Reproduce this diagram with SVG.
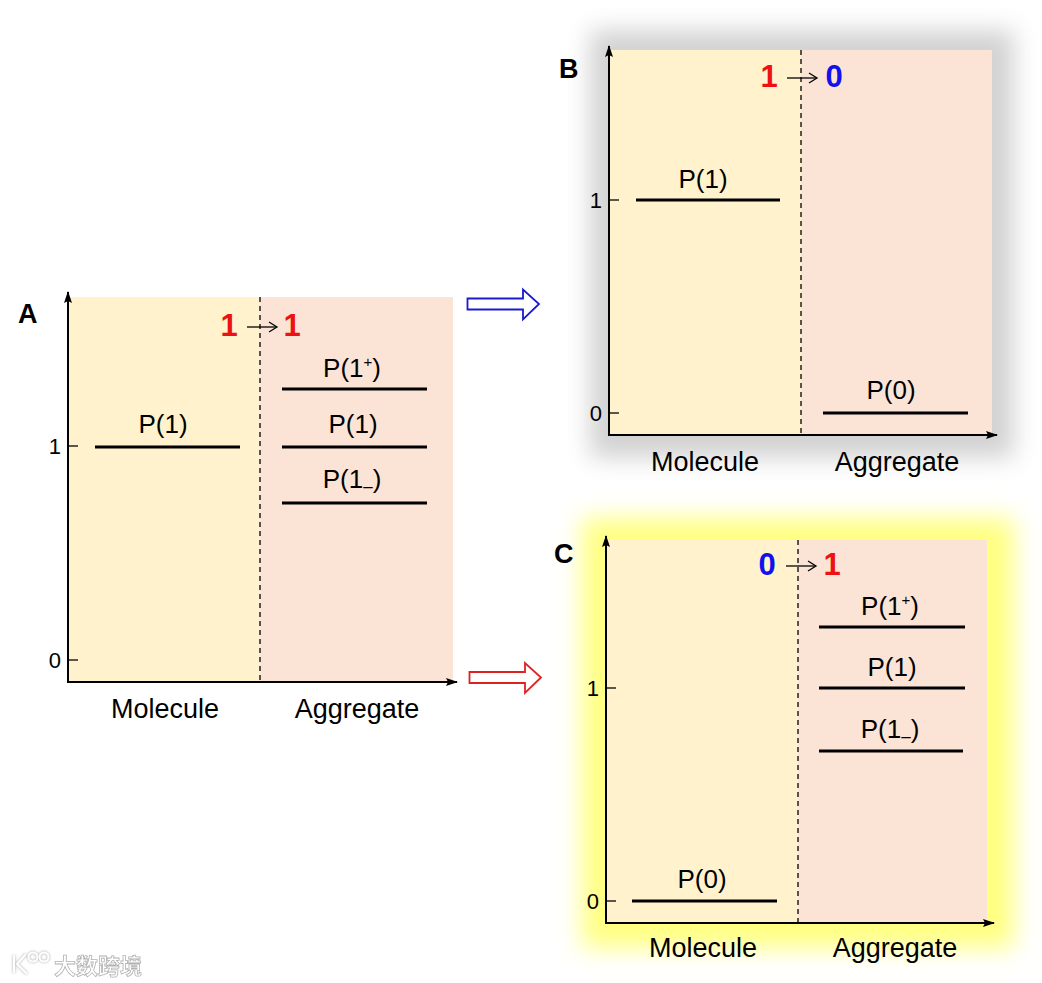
<svg xmlns="http://www.w3.org/2000/svg" width="1042" height="983" viewBox="0 0 1042 983">
<defs>
<style>
text{font-family:"Liberation Sans",Arial,sans-serif;fill:#000}
.lbl{font-size:26px;text-anchor:middle}
.ax{font-size:27px;text-anchor:middle}
.tk{font-size:22px;text-anchor:end}
.pl{font-size:27px;font-weight:bold}
.big{font-size:31px;font-weight:bold;text-anchor:middle}
.red{fill:#ee1111}
.blue{fill:#1111ee}
.mol{fill:#fff2cc}
.agg{fill:#fbe4d6}
.lvl{stroke:#000;stroke-width:3}
.axis{stroke:#000;stroke-width:2;fill:none}
.dash{stroke:#000;stroke-width:1.3;stroke-dasharray:5,4}
.thin{stroke:#000;stroke-width:1.3;fill:none}
.wm{font-family:"Noto Sans CJK SC","Liberation Sans",sans-serif;font-size:22px;fill:#fff;stroke:#aaa;stroke-width:0.8;font-weight:bold}
</style>
<marker id="ah" viewBox="0 0 12 10" refX="11" refY="5" markerWidth="12" markerHeight="10" markerUnits="userSpaceOnUse" orient="auto">
<path d="M0,1 L12,5 L0,9 L2,5 Z" fill="#000"/>
</marker>
<filter id="blur" x="-20%" y="-20%" width="140%" height="140%"><feGaussianBlur stdDeviation="12"/></filter>
<filter id="blurw" x="-20%" y="-20%" width="140%" height="140%"><feGaussianBlur stdDeviation="1.2"/></filter>
</defs>
<rect width="1042" height="983" fill="#fff"/>

<!-- Panel A -->
<g id="panelA">
<rect class="mol" x="68" y="297" width="192" height="385"/>
<rect class="agg" x="260" y="297" width="193" height="385"/>
<line class="dash" x1="260" y1="297" x2="260" y2="681"/>
<line class="axis" x1="68" y1="683" x2="68" y2="292" marker-end="url(#ah)"/>
<line class="axis" x1="67" y1="682" x2="457" y2="682" marker-end="url(#ah)"/>
<line class="thin" x1="68" y1="446" x2="78" y2="446"/>
<line class="thin" x1="68" y1="660" x2="78" y2="660"/>
<text class="tk" x="61" y="454">1</text>
<text class="tk" x="61" y="668">0</text>
<text class="pl" x="18" y="323">A</text>
<text class="big red" x="229" y="336">1</text>
<line class="thin" x1="247" y1="327" x2="276" y2="327"/>
<path class="thin" d="M269,322 L277,327 L269,332"/>
<text class="big red" x="292" y="336">1</text>
<line class="lvl" x1="95" y1="447" x2="240" y2="447"/>
<text class="lbl" x="163" y="433">P(1)</text>
<line class="lvl" x1="282" y1="389" x2="427" y2="389"/>
<text class="lbl" x="352" y="377">P(1<tspan font-size="15" dy="-10">+</tspan><tspan dy="10">)</tspan></text>
<line class="lvl" x1="282" y1="447" x2="427" y2="447"/>
<text class="lbl" x="353" y="433">P(1)</text>
<line class="lvl" x1="282" y1="503" x2="427" y2="503"/>
<text class="lbl" x="352" y="488">P(1<tspan font-size="17" dy="4">–</tspan><tspan dy="-4">)</tspan></text>
<text class="ax" x="165" y="718">Molecule</text>
<text class="ax" x="357" y="718">Aggregate</text>
</g>

<!-- Panel B -->
<g id="panelB">
<rect x="590" y="30" width="424" height="428" fill="#d2d2d2" filter="url(#blur)"/>
<rect class="mol" x="609" y="50" width="192" height="386"/>
<rect class="agg" x="801" y="50" width="191" height="386"/>
<line class="dash" x1="801" y1="50" x2="801" y2="434"/>
<line class="axis" x1="609" y1="436" x2="609" y2="46" marker-end="url(#ah)"/>
<line class="axis" x1="608" y1="435" x2="997" y2="435" marker-end="url(#ah)"/>
<line class="thin" x1="609" y1="200" x2="619" y2="200"/>
<line class="thin" x1="609" y1="413" x2="619" y2="413"/>
<text class="tk" x="602" y="208">1</text>
<text class="tk" x="602" y="421">0</text>
<text class="pl" x="559" y="78">B</text>
<text class="big red" x="769" y="87">1</text>
<line class="thin" x1="787" y1="78" x2="816" y2="78"/>
<path class="thin" d="M809,73 L817,78 L809,83"/>
<text class="big blue" x="834" y="87">0</text>
<line class="lvl" x1="636" y1="200" x2="780" y2="200"/>
<text class="lbl" x="703" y="188">P(1)</text>
<line class="lvl" x1="823" y1="413" x2="968" y2="413"/>
<text class="lbl" x="891" y="399">P(0)</text>
<text class="ax" x="705" y="471">Molecule</text>
<text class="ax" x="897" y="471">Aggregate</text>
</g>

<!-- Panel C -->
<g id="panelC">
<rect x="582" y="518" width="432" height="430" fill="#ffff80" filter="url(#blur)"/>
<rect class="mol" x="606" y="540" width="192" height="384"/>
<rect class="agg" x="798" y="540" width="189" height="384"/>
<line class="dash" x1="798" y1="540" x2="798" y2="922"/>
<line class="axis" x1="606" y1="924" x2="606" y2="536" marker-end="url(#ah)"/>
<line class="axis" x1="605" y1="923" x2="994" y2="923" marker-end="url(#ah)"/>
<line class="thin" x1="606" y1="688" x2="616" y2="688"/>
<line class="thin" x1="606" y1="901" x2="616" y2="901"/>
<text class="tk" x="599" y="696">1</text>
<text class="tk" x="599" y="909">0</text>
<text class="pl" x="554" y="563">C</text>
<text class="big blue" x="767" y="575">0</text>
<line class="thin" x1="786" y1="566" x2="815" y2="566"/>
<path class="thin" d="M808,561 L816,566 L808,571"/>
<text class="big red" x="832" y="575">1</text>
<line class="lvl" x1="819" y1="627" x2="965" y2="627"/>
<text class="lbl" x="890" y="615">P(1<tspan font-size="15" dy="-10">+</tspan><tspan dy="10">)</tspan></text>
<line class="lvl" x1="819" y1="688" x2="965" y2="688"/>
<text class="lbl" x="892" y="676">P(1)</text>
<line class="lvl" x1="819" y1="751" x2="963" y2="751"/>
<text class="lbl" x="890" y="738">P(1<tspan font-size="17" dy="4">–</tspan><tspan dy="-4">)</tspan></text>
<line class="lvl" x1="632" y1="901" x2="777" y2="901"/>
<text class="lbl" x="702" y="888">P(0)</text>
<text class="ax" x="703" y="957">Molecule</text>
<text class="ax" x="895" y="957">Aggregate</text>
</g>

<!-- Connectors -->
<g id="connectors">
<path d="M467.5,298.5 H523 V289.5 L539,304 L523,319.5 V309.5 H467.5 Z" fill="#fff" stroke="#1a1acc" stroke-width="1.8"/>
<path d="M469.5,672 H525 V663 L541,677.5 L525,693 V683 H469.5 Z" fill="#fff" stroke="#dd2222" stroke-width="1.8"/>
</g>

<!-- Watermark -->
<g id="watermark" opacity="0.9">
<g fill="none" stroke="#bbb" stroke-width="3" filter="url(#blurw)">
<path d="M14,955 V973 M26,954 L17,964 L27,974"/>
<circle cx="33" cy="957" r="4.5"/><circle cx="44" cy="957" r="4.5"/>
</g>
<g fill="none" stroke="#fff" stroke-width="2">
<path d="M14,955 V973 M26,954 L17,964 L27,974"/>
<circle cx="33" cy="957" r="4.5"/><circle cx="44" cy="957" r="4.5"/>
</g>
<text class="wm" x="54" y="974">大数跨境</text>
</g>
</svg>
